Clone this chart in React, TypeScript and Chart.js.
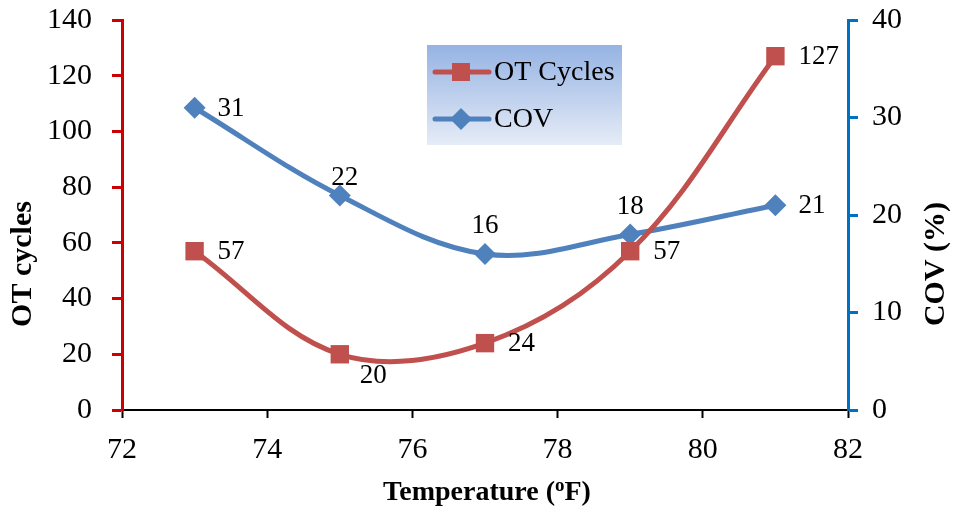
import React, { useEffect, useRef } from "react";
import { Chart, registerables } from "chart.js";
Chart.register(...registerables);

const temperatures = [73, 75, 77, 79, 81];
const otCycles = [57, 20, 24, 57, 127];
const covValues = [31, 22, 16, 18, 21];
const otLabelPlacement = ["right", "below", "right", "right", "right"];
const covLabelPlacement = ["right", "above", "aboveFar", "aboveFar", "right"];
const xRange = [72, 82];
const xStep = 2;
const leftRange = [0, 140];
const leftStep = 20;
const rightRange = [0, 40];
const rightStep = 10;
const seriesNames = ["OT Cycles", "COV"];
const xTitle = ["Temperature (", "o", "F)"];
const leftTitle = "OT cycles";
const rightTitle = "COV (%)";

const FONT = '"Liberation Serif", "Times New Roman", serif';
const RED = "#C0504D";
const BLUE = "#4F81BD";

const labelsPlugin = {
  id: "valueLabels",
  afterDatasetsDraw(chart: any) {
    const ctx = chart.ctx;
    ctx.save();
    ctx.font = `27px ${FONT}`;
    ctx.fillStyle = "#000";
    const sets = [
      { idx: 0, values: otCycles, place: otLabelPlacement },
      { idx: 1, values: covValues, place: covLabelPlacement },
    ];
    for (const s of sets) {
      const meta = chart.getDatasetMeta(s.idx);
      meta.data.forEach((pt: any, i: number) => {
        const p = s.place[i];
        const txt = String(s.values[i]);
        ctx.textBaseline = "middle";
        if (p === "right") {
          ctx.textAlign = "left";
          ctx.fillText(txt, pt.x + 23, pt.y + 1);
        } else if (p === "below") {
          ctx.textAlign = "left";
          ctx.fillText(txt, pt.x + 20, pt.y + 22);
        } else if (p === "above") {
          ctx.textAlign = "center";
          ctx.fillText(txt, pt.x + 5, pt.y - 18);
        } else {
          ctx.textAlign = "center";
          ctx.fillText(txt, pt.x, pt.y - 28);
        }
      });
    }
    ctx.restore();
  },
};

const decorPlugin = {
  id: "decor",
  afterDraw(chart: any) {
    const ctx = chart.ctx;
    const area = chart.chartArea;
    ctx.save();
    ctx.fillStyle = "#000";
    ctx.font = `bold 30px ${FONT}`;
    ctx.textAlign = "center";
    ctx.textBaseline = "middle";
    ctx.save();
    ctx.translate(23, 264);
    ctx.rotate(-Math.PI / 2);
    ctx.fillText(leftTitle, 0, 0);
    ctx.restore();
    ctx.save();
    ctx.translate(936, 264);
    ctx.rotate(-Math.PI / 2);
    ctx.fillText(rightTitle, 0, 0);
    ctx.restore();
    // x title with superscript o
    const bigFont = `bold 28px ${FONT}`;
    const smallFont = `bold 19px ${FONT}`;
    ctx.font = bigFont;
    const w1 = ctx.measureText(xTitle[0]).width;
    const w3 = ctx.measureText(xTitle[2]).width;
    ctx.font = smallFont;
    const w2 = ctx.measureText(xTitle[1]).width;
    const total = w1 + w2 + w3;
    const cx = (area.left + area.right) / 2 + 2;
    let x = cx - total / 2;
    const base = 500;
    ctx.textAlign = "left";
    ctx.textBaseline = "alphabetic";
    ctx.font = bigFont;
    ctx.fillText(xTitle[0], x, base);
    x += w1;
    ctx.font = smallFont;
    ctx.fillText(xTitle[1], x, base - 9);
    x += w2;
    ctx.font = bigFont;
    ctx.fillText(xTitle[2], x, base);

    // legend
    const lx = 427, ly = 45, lw = 195, lh = 100;
    const g = ctx.createLinearGradient(0, ly, 0, ly + lh);
    g.addColorStop(0, "#95B3E3");
    g.addColorStop(1, "#E6ECF7");
    ctx.fillStyle = g;
    ctx.fillRect(lx, ly, lw, lh);
    const rows = [
      { y: 72, color: RED, shape: "square", text: seriesNames[0] },
      { y: 119, color: BLUE, shape: "diamond", text: seriesNames[1] },
    ];
    for (const r of rows) {
      ctx.strokeStyle = r.color;
      ctx.lineWidth = 5;
      ctx.lineCap = "round";
      ctx.beginPath();
      ctx.moveTo(435, r.y);
      ctx.lineTo(489, r.y);
      ctx.stroke();
      ctx.fillStyle = r.color;
      if (r.shape === "square") {
        ctx.fillRect(452, r.y - 9, 18, 18);
      } else {
        ctx.beginPath();
        ctx.moveTo(461, r.y - 11);
        ctx.lineTo(472, r.y);
        ctx.lineTo(461, r.y + 11);
        ctx.lineTo(450, r.y);
        ctx.closePath();
        ctx.fill();
      }
      ctx.fillStyle = "#000";
      ctx.font = `28px ${FONT}`;
      ctx.textAlign = "left";
      ctx.textBaseline = "middle";
      ctx.fillText(r.text, 494, r.y + 1);
    }
    ctx.restore();
  },
};

function noVerticalPad(s: any, width: number) {
  s.width = width;
  s.paddingTop = 0;
  s.paddingBottom = 0;
}

export default function App() {
  const ref = useRef<HTMLCanvasElement>(null);
  useEffect(() => {
    if (!ref.current) return;
    const chart = new Chart(ref.current, {
      type: "line",
      data: {
        datasets: [
          {
            label: seriesNames[0],
            data: temperatures.map((t, i) => ({ x: t, y: otCycles[i] })),
            borderColor: RED,
            backgroundColor: RED,
            borderWidth: 5,
            pointStyle: "rect",
            pointRadius: 13,
            pointHoverRadius: 13,
            pointBorderWidth: 0,
            tension: 0.36,
            yAxisID: "y",
          },
          {
            label: seriesNames[1],
            data: temperatures.map((t, i) => ({ x: t, y: covValues[i] })),
            borderColor: BLUE,
            backgroundColor: BLUE,
            borderWidth: 5,
            pointStyle: "rectRot",
            pointRadius: 11,
            pointHoverRadius: 11,
            pointBorderWidth: 0,
            tension: 0.36,
            yAxisID: "y1",
          },
        ],
      },
      options: {
        responsive: false,
        animation: false,
        devicePixelRatio: 1,
        layout: { padding: { top: 20, left: 0, right: 0, bottom: 0 } },
        plugins: {
          legend: { display: false },
          tooltip: { enabled: false },
        },
        scales: {
          x: {
            type: "linear",
            min: xRange[0],
            max: xRange[1],
            afterFit(s: any) {
              s.height = 100;
              s.paddingLeft = 0;
              s.paddingRight = 0;
            },
            ticks: {
              stepSize: xStep,
              color: "#000",
              font: { family: FONT, size: 30 },
              padding: 14,
              maxRotation: 0,
            },
            grid: {
              drawOnChartArea: false,
              tickLength: 8,
              tickColor: "#000",
              tickWidth: 2,
            },
            border: { color: "#000", width: 2 },
          },
          y: {
            type: "linear",
            position: "left",
            min: leftRange[0],
            max: leftRange[1],
            afterFit(s: any) {
              noVerticalPad(s, 122);
            },
            ticks: {
              stepSize: leftStep,
              color: "#000",
              font: { family: FONT, size: 30 },
              padding: 20,
            },
            grid: {
              drawOnChartArea: false,
              tickLength: 10,
              tickColor: "#CC0000",
              tickWidth: 3,
            },
            border: { color: "#CC0000", width: 3 },
          },
          y1: {
            type: "linear",
            position: "right",
            min: rightRange[0],
            max: rightRange[1],
            afterFit(s: any) {
              noVerticalPad(s, 107);
            },
            ticks: {
              stepSize: rightStep,
              color: "#000",
              font: { family: FONT, size: 30 },
              padding: 14,
            },
            grid: {
              drawOnChartArea: false,
              tickLength: 10,
              tickColor: "#0070C0",
              tickWidth: 3,
            },
            border: { color: "#0070C0", width: 3 },
          },
        },
      },
      plugins: [labelsPlugin, decorPlugin],
    } as any);
    return () => chart.destroy();
  }, []);
  return (
    <canvas
      ref={ref}
      width={955}
      height={510}
      style={{ position: "absolute", left: 0, top: 0, width: 955, height: 510 }}
    />
  );
}
